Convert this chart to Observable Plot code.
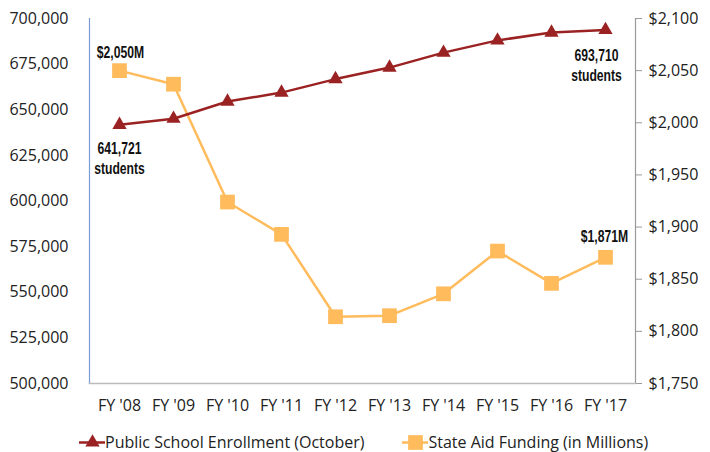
<!DOCTYPE html>
<html>
<head>
<meta charset="utf-8">
<script src="https://cdn.jsdelivr.net/npm/d3@7"></script>
<script src="https://cdn.jsdelivr.net/npm/@observablehq/plot@0.6"></script>
<style>
  body { margin: 0; background: #fff; font-family: "Open Sans", sans-serif; }
  #chart { width: 710px; }
  .legend { display: flex; font-size: 16px; color: #222; height: 32px; align-items: center; }
  .legend .item { display: flex; align-items: center; }
  .legend svg { display: block; }
</style>
</head>
<body>
<div id="chart"></div>
<script>
const years = ["FY '08", "FY '09", "FY '10", "FY '11", "FY '12", "FY '13", "FY '14", "FY '15", "FY '16", "FY '17"];
const enrollment = [641721, 645100, 654500, 659400, 666800, 673100, 681300, 688000, 692300, 693710];
const funding = [2050, 2037, 1924, 1893, 1814, 1815, 1836, 1877, 1846, 1871];
const leftTicks = [500000, 525000, 550000, 575000, 600000, 625000, 650000, 675000, 700000];
const rightTicks = [1750, 1800, 1850, 1900, 1950, 2000, 2050, 2100];
const seriesNames = ["Public School Enrollment (October)", "State Aid Funding (in Millions)"];
const colors = ["#9b2222", "#ffbb5c"];

const leftDomain = [500000, 700000];
const rightDomain = [1750, 2100];
const toLeft = v => leftDomain[0] + (v - rightDomain[0]) * (leftDomain[1] - leftDomain[0]) / (rightDomain[1] - rightDomain[0]);

const enrollData = years.map((y, i) => ({year: y, value: enrollment[i]}));
const fundData = years.map((y, i) => ({year: y, raw: funding[i], value: toLeft(funding[i])}));

const fmt = d3.format(",");
const annoFont = {fontFamily: "'Liberation Sans', Arial, sans-serif", fontWeight: "bold", fontSize: 16, fill: "#111", lineHeight: 1.25, className: "anno"};
const first = 0, last = years.length - 1;

const plot = Plot.plot({
  width: 710,
  height: 420,
  marginLeft: 89,
  marginRight: 75,
  marginTop: 18,
  marginBottom: 37,
  style: {fontFamily: "'Open Sans', sans-serif", fontSize: "16px", color: "#222"},
  x: {type: "band", domain: years, padding: 0, label: null},
  y: {domain: leftDomain, label: null},
  marks: [
    Plot.axisX({tickSize: 0, tickPadding: 16, fontSize: 16, label: null}),
    Plot.axisY({anchor: "left", ticks: leftTicks, tickFormat: d => fmt(d), tickSize: 0, tickPadding: 21, fontSize: 16, label: null}),
    Plot.axisY({anchor: "right", ticks: rightTicks.map(toLeft), tickFormat: (d, i) => "$" + fmt(rightTicks[i]), tickSize: 6, tickPadding: 7, stroke: "#999", fontSize: 16, label: null}),
    Plot.frame({anchor: "left", stroke: "#7b9cd6", strokeWidth: 1.2}),
    Plot.frame({anchor: "right", stroke: "#999", strokeWidth: 1.2}),
    Plot.frame({anchor: "bottom", stroke: "#bbb", strokeWidth: 1.5}),
    Plot.line(fundData, {x: "year", y: "value", stroke: colors[1], strokeWidth: 2.5}),
    Plot.dot(fundData, {x: "year", y: "value", symbol: "square", r: 8.3, fill: colors[1], stroke: "none"}),
    Plot.line(enrollData, {x: "year", y: "value", stroke: colors[0], strokeWidth: 2.5}),
    Plot.dot(enrollData, {x: "year", y: "value", symbol: "triangle", r: 5.3, fill: colors[0], stroke: "none"}),
    Plot.text([enrollData[first]], {x: "year", y: "value", text: d => fmt(d.value) + "\nstudents", dy: 33, dx: 0, ...annoFont}),
    Plot.text([enrollData[last]], {x: "year", y: "value", text: d => fmt(d.value) + "\nstudents", dy: 35, dx: -9, ...annoFont}),
    Plot.text([fundData[first]], {x: "year", y: "value", text: d => "$" + fmt(d.raw) + "M", dy: -19, dx: 1, ...annoFont}),
    Plot.text([fundData[last]], {x: "year", y: "value", text: d => "$" + fmt(d.raw) + "M", dy: -22, dx: -1, ...annoFont})
  ]
});
// condense the bold annotation text horizontally (narrow bold look)
d3.select(plot).selectAll(".anno text").each(function() {
  const t = this.getAttribute("transform") || "";
  this.setAttribute("transform", t + " scale(0.76,1)");
});
document.getElementById("chart").appendChild(plot);

// Legend
const legend = document.createElement("div");
legend.className = "legend";
function item(color, symbol, name, padLeft) {
  const it = document.createElement("div");
  it.className = "item";
  it.style.marginLeft = padLeft + "px";
  const sw = Plot.plot({
    width: 26, height: 20, margin: 0,
    x: {domain: [0, 1], axis: null}, y: {domain: [0, 1], axis: null},
    marks: [
      Plot.ruleY([0.5], {stroke: color, strokeWidth: 2.5}),
      Plot.dot([{x: 0.5, y: 0.5}], {x: "x", y: "y", symbol, r: symbol === "square" ? 8.3 : 5.3, fill: color})
    ]
  });
  it.appendChild(sw);
  const t = document.createElement("span");
  t.textContent = name;
  it.appendChild(t);
  return it;
}
legend.appendChild(item(colors[0], "triangle", seriesNames[0], 79));
legend.appendChild(item(colors[1], "square", seriesNames[1], 38));
legend.style.marginTop = "6px";
document.getElementById("chart").appendChild(legend);
</script>
</body>
</html>
